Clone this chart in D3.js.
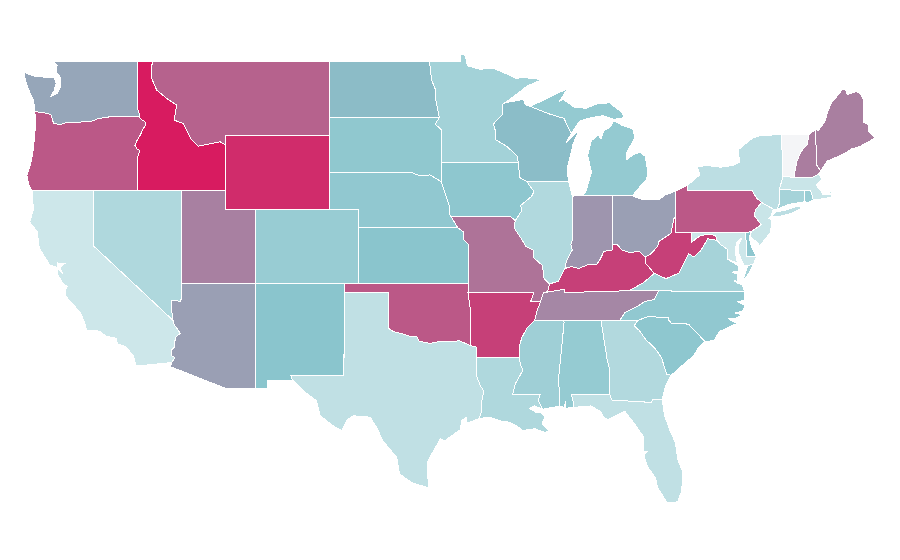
<!DOCTYPE html>
<html>
<head>
<meta charset="utf-8">
<script src="https://d3js.org/d3.v7.min.js"></script>
<style>
  body { margin: 0; background: #fff; }
  .state { stroke: #fff; stroke-width: 1; shape-rendering: crispEdges; }
</style>
</head>
<body>
<svg width="900" height="560"></svg>
<script>
var width = 900, height = 560;

var states = ["WA","OR","CA","NV","ID","MT","WY","UT","AZ","CO","NM","ND","SD","NE","KS","OK","TX","MN","IA","MO","AR","LA","WI","IL","MI","IN","OH","KY","TN","MS","AL","GA","FL","SC","NC","VA","WV","PA","NY","VT","NH","ME","MA","CT","RI","NJ","DE","MD"];
var values = [59,82,18,32,100,79,95,70,61,42.5,49,52.5,46.5,46,49,82,24,37.5,47,74,89,32,52,31,44.5,64,61,89,68,39.5,44,30.5,24,47,46,36,89,82,26,0,71,70.5,20,36,42,20,47,18];

// outlines as [lon, lat], one list per ring
var WA = [[[-117.04,49],[-122.76,49],[-122.5,48.75],[-122.55,48.4],[-122.25,48.1],[-122.25,47.9],[-122.3,47.5],[-122.5,47.25],[-122.9,47.1],[-122.7,47.4],[-122.55,47.8],[-122.7,48.12],[-123.2,48.12],[-124,48.17],[-124.72,48.38],[-124.65,47.95],[-124.35,47.3],[-124.1,46.9],[-124.05,46.65],[-124,46.27],[-123.4,46.2],[-123.1,46.17],[-122.9,46.08],[-122.8,45.85],[-122.75,45.65],[-122.3,45.55],[-121.9,45.68],[-121.2,45.67],[-120.6,45.74],[-120.2,45.73],[-119.6,45.92],[-119,45.93],[-118.98,46],[-116.92,46],[-116.92,46.17],[-117.04,46.42]]];
var OR = [[[-124,46.27],[-123.4,46.2],[-123.1,46.17],[-122.9,46.08],[-122.8,45.85],[-122.75,45.65],[-122.3,45.55],[-121.9,45.68],[-121.2,45.67],[-120.6,45.74],[-120.2,45.73],[-119.6,45.92],[-119,45.93],[-118.98,46],[-116.92,46],[-116.78,45.83],[-116.55,45.75],[-116.46,45.6],[-116.67,45.32],[-116.85,45],[-117.05,44.75],[-117.22,44.45],[-117.05,44.23],[-116.95,44.2],[-116.9,44.1],[-117.03,43.83],[-117.03,42],[-124.2,42],[-124.4,42.3],[-124.55,42.84],[-124.3,43.4],[-124.15,44],[-124.05,44.7],[-123.95,45.6]]];
var CA = [[[-124.2,42],[-120,42],[-120,39],[-114.63,35],[-114.57,34.8],[-114.14,34.3],[-114.43,34.1],[-114.5,33.9],[-114.53,33.55],[-114.72,33.4],[-114.7,33.08],[-114.5,33],[-114.72,32.72],[-117.12,32.53],[-117.25,32.85],[-117.3,33.1],[-117.9,33.6],[-118.4,33.74],[-118.5,34.03],[-119.2,34.15],[-119.6,34.42],[-120.47,34.45],[-120.65,34.9],[-120.9,35.4],[-121.9,36.3],[-121.95,36.6],[-121.8,36.85],[-122.05,36.95],[-122.5,37.5],[-122.5,37.78],[-122.4,37.75],[-122.1,37.5],[-122.3,37.85],[-122,38.05],[-122.45,38.1],[-122.5,37.85],[-123,38],[-123.7,38.9],[-123.85,39.8],[-124.35,40.3],[-124.1,41]]];
var NV = [[[-120,42],[-114.04,42],[-114.04,36.2],[-114.15,36.03],[-114.7,36.1],[-114.74,35.6],[-114.63,35],[-120,39]]];
var ID = [[[-117.04,49],[-116.05,49],[-116.08,48.06],[-115.74,47.43],[-115.06,46.98],[-114.38,46.62],[-114.56,45.81],[-113.93,45.63],[-113.43,44.82],[-112.92,44.4],[-111.44,44.64],[-111.05,44.46],[-111.05,42],[-117.03,42],[-117.03,43.83],[-116.9,44.1],[-116.95,44.2],[-117.05,44.23],[-117.22,44.45],[-117.05,44.75],[-116.85,45],[-116.67,45.32],[-116.46,45.6],[-116.55,45.75],[-116.78,45.83],[-116.92,46],[-116.92,46.17],[-117.04,46.42]]];
var MT = [[[-116.05,49],[-104.05,49],[-104.05,45],[-111.05,45],[-111.05,44.46],[-111.44,44.64],[-112.92,44.4],[-113.43,44.82],[-113.93,45.63],[-114.56,45.81],[-114.38,46.62],[-115.06,46.98],[-115.74,47.43],[-116.08,48.06]]];
var WY = [[[-111.05,45],[-104.05,45],[-104.05,41],[-111.05,41]]];
var UT = [[[-114.04,42],[-111.05,42],[-111.05,41],[-109.05,41],[-109.05,37],[-114.04,37]]];
var AZ = [[[-114.04,37],[-109.05,37],[-109.05,31.33],[-111.07,31.33],[-114.81,32.5],[-114.72,32.72],[-114.5,33],[-114.7,33.08],[-114.72,33.4],[-114.53,33.55],[-114.5,33.9],[-114.43,34.1],[-114.14,34.3],[-114.57,34.8],[-114.63,35],[-114.74,35.6],[-114.7,36.1],[-114.15,36.03],[-114.04,36.2]]];
var CO = [[[-109.05,41],[-102.05,41],[-102.05,37],[-109.05,37]]];
var NM = [[[-109.05,37],[-103,37],[-103.04,32],[-106.62,32],[-106.53,31.78],[-108.2,31.78],[-108.2,31.33],[-109.05,31.33]]];
var ND = [[[-104.05,49],[-97.23,49],[-97.1,48],[-96.85,47.5],[-96.8,46.9],[-96.56,45.94],[-104.05,45.94]]];
var SD = [[[-104.05,45.94],[-96.56,45.94],[-96.85,45.6],[-96.45,45.3],[-96.45,43.5],[-96.45,42.49],[-97.2,42.85],[-97.9,42.8],[-98.5,43],[-104.05,43]]];
var NE = [[[-104.05,43],[-98.5,43],[-97.9,42.8],[-97.2,42.85],[-96.45,42.49],[-96.1,41.7],[-95.9,41.2],[-95.85,40.7],[-95.31,40],[-102.05,40],[-102.05,41],[-104.05,41]]];
var KS = [[[-102.05,40],[-95.31,40],[-94.9,39.75],[-94.95,39.4],[-94.6,39.1],[-94.62,37],[-102.05,37]]];
var OK = [[[-103,37],[-94.62,37],[-94.62,36.5],[-94.43,35.4],[-94.48,33.64],[-95.2,33.9],[-95.8,33.85],[-96.6,33.85],[-97.2,33.75],[-97.95,33.88],[-98.1,34.13],[-98.6,34.15],[-99.2,34.3],[-99.7,34.4],[-100,34.56],[-100,36.5],[-103,36.5]]];
var TX = [[[-103,36.5],[-100,36.5],[-100,34.56],[-99.7,34.4],[-99.2,34.3],[-98.6,34.15],[-98.1,34.13],[-97.95,33.88],[-97.2,33.75],[-96.6,33.85],[-95.8,33.85],[-95.2,33.9],[-94.48,33.64],[-94.04,33.55],[-94.04,32],[-93.8,31.5],[-93.55,31.18],[-93.7,30.6],[-93.7,30.1],[-93.85,29.7],[-94.7,29.45],[-94.75,29.75],[-95.05,29.6],[-95.15,29.1],[-96.2,28.5],[-96.5,28.6],[-97,27.9],[-97.4,27.3],[-97.35,26.7],[-97.3,25.97],[-98.34,26.2],[-99.26,26.7],[-99.46,27.6],[-100.4,28.5],[-100.8,29.2],[-101.26,29.77],[-102.4,29.85],[-102.85,29.6],[-103.2,29.05],[-103.76,29.3],[-104.66,29.86],[-104.9,30.67],[-105.56,31.05],[-106.53,31.78],[-106.62,32],[-103.04,32]]];
var MN = [[[-97.23,49],[-95.15,49],[-95.15,49.38],[-94.82,49.3],[-94.65,48.74],[-93.8,48.55],[-92.95,48.62],[-92,48.3],[-91.4,48.07],[-90.75,48.1],[-89.6,48],[-90.6,47.65],[-91.5,47.1],[-92.1,46.75],[-92.3,46.66],[-92.3,46.1],[-92.9,45.6],[-92.75,45.2],[-92.75,44.75],[-92,44.4],[-91.25,43.85],[-91.22,43.5],[-96.45,43.5],[-96.45,45.3],[-96.85,45.6],[-96.56,45.94],[-96.8,46.9],[-96.85,47.5],[-97.1,48]]];
var IA = [[[-96.45,43.5],[-91.22,43.5],[-91.1,42.7],[-90.64,42.5],[-90.15,41.95],[-90.3,41.7],[-91.05,41.2],[-90.95,40.95],[-91.42,40.38],[-91.73,40.61],[-95.77,40.58],[-95.85,40.7],[-95.9,41.2],[-96.1,41.7],[-96.45,42.49]]];
var MO = [[[-95.77,40.58],[-91.73,40.61],[-91.42,40.38],[-91.5,40],[-91,39.4],[-90.7,39],[-90.2,38.8],[-90.2,38.4],[-89.55,37.95],[-89.5,37.3],[-89.1,36.97],[-89.2,36.6],[-89.42,36.5],[-89.5,36.5],[-89.7,36],[-90.38,36],[-90.15,36.5],[-94.62,36.5],[-94.62,37],[-94.6,39.1],[-94.95,39.4],[-94.9,39.75],[-95.31,40],[-95.85,40.7]]];
var AR = [[[-94.62,36.5],[-90.15,36.5],[-90.38,36],[-89.7,36],[-89.95,35.5],[-90.1,35],[-90.6,34.6],[-90.95,34.1],[-91.15,33.6],[-91.15,33],[-94.04,33.02],[-94.04,33.55],[-94.48,33.64],[-94.43,35.4]]];
var LA = [[[-94.04,33.02],[-91.15,33],[-91.05,32.6],[-90.9,32.3],[-91.4,31.6],[-91.6,31],[-89.73,31],[-89.85,30.67],[-89.55,30.2],[-90.1,30.38],[-90.45,30.25],[-90.05,30.05],[-89.7,30.05],[-89.4,29.8],[-89.6,29.4],[-89.1,29.05],[-89.4,28.95],[-90.1,29.15],[-90.9,29.05],[-91.3,29.3],[-91.8,29.5],[-92.3,29.55],[-93.2,29.78],[-93.85,29.7],[-93.7,30.1],[-93.7,30.6],[-93.55,31.18],[-93.8,31.5],[-94.04,32]]];
var WI = [[[-92.1,46.75],[-91.2,46.87],[-90.85,46.95],[-90.75,46.65],[-90.4,46.55],[-89.1,46.14],[-88.1,45.9],[-87.8,45.35],[-87.6,45.1],[-88,44.55],[-87.1,45.25],[-87.5,44.5],[-87.55,44.3],[-87.9,43.2],[-87.8,42.5],[-90.64,42.5],[-91.1,42.7],[-91.22,43.5],[-91.25,43.85],[-92,44.4],[-92.75,44.75],[-92.75,45.2],[-92.9,45.6],[-92.3,46.1],[-92.3,46.66]]];
var IL = [[[-90.64,42.5],[-87.8,42.5],[-87.55,41.75],[-87.53,41.7],[-87.53,39.35],[-87.65,39.1],[-87.55,38.8],[-87.95,38.2],[-88.05,37.8],[-88.5,37.1],[-89.1,36.97],[-89.5,37.3],[-89.55,37.95],[-90.2,38.4],[-90.2,38.8],[-90.7,39],[-91,39.4],[-91.5,40],[-91.42,40.38],[-90.95,40.95],[-91.05,41.2],[-90.3,41.7],[-90.15,41.95]]];
var MI = [
  [[-90.4,46.55],[-89.1,46.14],[-88.1,45.9],[-87.8,45.35],[-87.6,45.1],[-87.05,45.75],[-86.5,45.9],[-85.5,46.05],[-84.75,45.85],[-84,45.95],[-84.2,46.25],[-84.6,46.47],[-85,46.75],[-85.9,46.68],[-86.6,46.45],[-87.4,46.5],[-88.2,46.95],[-88.45,46.78],[-87.9,47.47],[-88.6,47.25],[-89.6,46.85]],
  [[-86.8,41.76],[-84.8,41.76],[-83.45,41.73],[-83.15,42.05],[-82.5,42.6],[-82.42,43],[-82.6,43.85],[-82.95,44.07],[-83.4,43.95],[-83.9,43.65],[-83.9,44],[-83.3,44.85],[-83.45,45.35],[-84.1,45.5],[-84.75,45.78],[-85,45.4],[-85.4,45.25],[-85.6,44.8],[-85.8,45],[-86.25,44.7],[-86.5,43.9],[-86.25,43],[-86.6,42]],
  [[-89.2,47.85],[-88.5,48.15],[-88.9,47.95]]
];
var IN = [[[-87.53,41.7],[-87.2,41.75],[-86.8,41.76],[-84.8,41.76],[-84.8,39.1],[-84.8,38.8],[-85.4,38.73],[-85.65,38.3],[-85.9,38],[-86.5,38],[-87.1,37.8],[-87.6,37.9],[-88.05,37.8],[-87.95,38.2],[-87.55,38.8],[-87.65,39.1],[-87.53,39.35]]];
var OH = [[[-84.8,41.76],[-83.45,41.73],[-83.1,41.6],[-82.7,41.5],[-81.7,41.5],[-81.25,41.76],[-80.52,41.98],[-80.52,40.64],[-80.65,40.5],[-80.85,39.7],[-81.7,39.25],[-81.75,39],[-82.2,38.6],[-82.6,38.42],[-83,38.73],[-83.65,38.65],[-84.2,38.8],[-84.5,39.1],[-84.8,39.1]]];
var KY = [[[-83.68,36.6],[-88.07,36.5],[-88.07,36.68],[-89.42,36.5],[-89.2,36.6],[-89.1,36.97],[-88.5,37.1],[-88.05,37.8],[-87.6,37.9],[-87.1,37.8],[-86.5,38],[-85.9,38],[-85.65,38.3],[-85.4,38.73],[-84.8,38.8],[-84.8,39.1],[-84.5,39.1],[-84.2,38.8],[-83.65,38.65],[-83,38.73],[-82.6,38.42],[-82.6,38.1],[-82,37.55],[-81.97,37.54],[-82.7,37.05]]];
var TN = [[[-90.1,35],[-88.2,35],[-85.6,35],[-84.32,35],[-84,35.4],[-83.1,35.77],[-82.6,36.03],[-82,36.12],[-81.68,36.59],[-83.68,36.6],[-88.07,36.5],[-88.07,36.68],[-89.42,36.5],[-89.5,36.5],[-89.7,36],[-89.95,35.5]]];
var MS = [[[-90.1,35],[-88.2,35],[-88.1,34.9],[-88.47,31.9],[-88.4,30.37],[-89.55,30.2],[-89.85,30.67],[-89.73,31],[-91.6,31],[-91.4,31.6],[-90.9,32.3],[-91.05,32.6],[-91.15,33],[-91.15,33.6],[-90.95,34.1],[-90.6,34.6]]];
var AL = [[[-88.2,35],[-85.6,35],[-85.18,32.87],[-85,32.3],[-85.05,31.5],[-85,31],[-87.6,31],[-87.45,30.45],[-87.5,30.3],[-88,30.25],[-88,30.65],[-88.1,30.3],[-88.4,30.37],[-88.47,31.9],[-88.1,34.9]]];
var GA = [[[-85.6,35],[-83.1,35],[-83.35,34.7],[-83,34.45],[-82.55,33.95],[-81.95,33.5],[-81.5,33],[-81.15,32.1],[-80.85,32.03],[-81.2,31.5],[-81.45,30.72],[-82.05,30.75],[-82.2,30.57],[-84.86,30.7],[-85,31],[-85.05,31.5],[-85,32.3],[-85.18,32.87]]];
var FL = [[[-87.6,31],[-85,31],[-84.86,30.7],[-82.2,30.57],[-82.05,30.75],[-81.45,30.72],[-81.3,29.9],[-80.9,29],[-80.55,28.4],[-80.4,27.5],[-80.05,26.8],[-80.12,25.8],[-80.4,25.2],[-81.1,25.15],[-81.75,25.95],[-81.9,26.5],[-82.45,27.1],[-82.7,27.7],[-82.45,27.9],[-82.7,27.95],[-82.7,28.7],[-83.4,29.5],[-84,30.1],[-84.35,29.95],[-85.1,29.65],[-85.35,29.7],[-85.65,30.1],[-86.3,30.38],[-87.5,30.3],[-87.45,30.45]]];
var SC = [[[-83.1,35],[-82.4,35.2],[-81.05,35.15],[-81.05,35.05],[-80.8,34.82],[-79.67,34.8],[-78.55,33.86],[-79,33.5],[-79.3,33.1],[-79.9,32.7],[-80.45,32.3],[-80.85,32.03],[-81.15,32.1],[-81.5,33],[-81.95,33.5],[-82.55,33.95],[-83,34.45],[-83.35,34.7]]];
var NC = [[[-84.32,35],[-83.1,35],[-82.4,35.2],[-81.05,35.15],[-81.05,35.05],[-80.8,34.82],[-79.67,34.8],[-78.55,33.86],[-77.95,33.9],[-77.55,34.4],[-76.9,34.65],[-76.3,34.85],[-76.7,34.95],[-76.95,35.1],[-76.5,35.1],[-76,35.3],[-76.5,35.4],[-76,35.5],[-75.8,35.8],[-76.3,36],[-75.85,36.1],[-75.87,36.55],[-81.68,36.59],[-82,36.12],[-82.6,36.03],[-83.1,35.77],[-84,35.4]]];
var VA = [
  [[-83.68,36.6],[-81.68,36.59],[-75.87,36.55],[-76,36.9],[-76.3,37],[-76.6,37.15],[-76.3,37.1],[-76.35,37.5],[-76.7,37.6],[-76.3,37.65],[-76.3,37.95],[-77,38.3],[-77.05,38.85],[-77.5,39.1],[-77.72,39.32],[-78.35,39.4],[-78.85,38.75],[-79.3,38.42],[-79.65,38.6],[-80.3,37.55],[-81.2,37.25],[-81.97,37.54],[-82.7,37.05]],
  [[-75.97,37.15],[-75.65,37.95],[-75.25,38.03],[-75.6,37.5]]
];
var WV = [[[-80.52,40.64],[-80.52,39.72],[-79.48,39.72],[-79.48,39.2],[-79.05,39.47],[-78.75,39.6],[-78.4,39.62],[-77.85,39.6],[-77.72,39.32],[-78.35,39.4],[-78.85,38.75],[-79.3,38.42],[-79.65,38.6],[-80.3,37.55],[-81.2,37.25],[-81.97,37.54],[-82,37.55],[-82.6,38.1],[-82.6,38.42],[-82.2,38.6],[-81.75,39],[-81.7,39.25],[-80.85,39.7],[-80.65,40.5]]];
var PA = [[[-80.52,41.98],[-79.76,42.27],[-79.76,42],[-75.35,42],[-75.05,41.6],[-74.7,41.36],[-75.13,40.97],[-75.2,40.65],[-74.73,40.15],[-75.4,39.8],[-75.79,39.72],[-80.52,39.72]]];
var NY = [
  [[-79.76,42.27],[-79.76,42],[-75.35,42],[-75.05,41.6],[-74.7,41.36],[-73.9,41],[-73.65,41],[-73.5,41.3],[-73.5,42.05],[-73.27,42.75],[-73.35,45.01],[-74.7,45],[-75.3,44.85],[-76.3,44.2],[-76.2,43.55],[-76.7,43.35],[-77.5,43.27],[-78.5,43.37],[-79.05,43.27],[-78.9,42.85]],
  [[-74.03,40.6],[-73.75,40.85],[-73,40.97],[-72.3,41.15],[-71.9,41.08],[-72.6,40.8],[-73.5,40.6]]
];
var VT = [[[-73.35,45.01],[-71.5,45.01],[-71.6,44.5],[-72.05,44.1],[-72.3,43.6],[-72.45,43],[-72.46,42.73],[-73.27,42.75]]];
var NH = [[[-71.5,45.01],[-71.08,45.3],[-71,44.3],[-70.98,43.4],[-70.7,43.07],[-70.85,42.88],[-71.3,42.7],[-72.46,42.73],[-72.45,43],[-72.3,43.6],[-72.05,44.1],[-71.6,44.5]]];
var ME = [[[-71.08,45.3],[-70.85,45.25],[-70.4,45.75],[-70.25,46.2],[-70,46.7],[-69.23,47.46],[-69,47.43],[-68.9,47.18],[-68.3,47.35],[-67.95,47.2],[-67.8,46.9],[-67.8,45.7],[-67.45,45.55],[-67.45,45.2],[-67,44.85],[-68,44.4],[-68.6,44.25],[-69.1,44],[-69.8,43.75],[-70.25,43.6],[-70.7,43.07],[-70.98,43.4],[-71,44.3]]];
var MA = [[[-73.5,42.05],[-73.27,42.75],[-71.3,42.7],[-70.85,42.88],[-70.6,42.65],[-71,42.3],[-70.65,41.95],[-70.55,41.8],[-70,41.78],[-70.2,42.05],[-69.95,41.9],[-70,41.65],[-70.65,41.55],[-71.2,41.5],[-71.38,42.02],[-71.8,42.02]]];
var CT = [[[-73.65,41],[-73.5,41.3],[-73.5,42.05],[-71.8,42.02],[-71.8,41.4],[-72.9,41.25]]];
var RI = [[[-71.8,42.02],[-71.38,42.02],[-71.2,41.5],[-71.5,41.37],[-71.8,41.4]]];
var NJ = [[[-74.7,41.36],[-73.9,41],[-74.05,40.65],[-74.25,40.5],[-74,40.45],[-74.1,39.75],[-74.5,39.35],[-74.9,38.95],[-74.95,39.2],[-75.5,39.5],[-75.4,39.8],[-74.73,40.15],[-75.2,40.65],[-75.13,40.97]]];
var DE = [[[-75.79,39.72],[-75.4,39.8],[-75.55,39.45],[-75.4,39],[-75.05,38.45],[-75.7,38.46]]];
var MD = [[[-79.48,39.72],[-75.79,39.72],[-75.7,38.46],[-75.05,38.45],[-75.25,38.03],[-75.65,37.95],[-75.9,37.95],[-76.25,38.6],[-76.3,39],[-76.05,39.45],[-76.4,39.2],[-76.5,38.7],[-76.35,38.1],[-77,38.3],[-77.05,38.85],[-77.5,39.1],[-77.72,39.32],[-77.85,39.6],[-78.4,39.62],[-78.75,39.6],[-79.05,39.47],[-79.48,39.2]]];

var outlines = [WA,OR,CA,NV,ID,MT,WY,UT,AZ,CO,NM,ND,SD,NE,KS,OK,TX,MN,IA,MO,AR,LA,WI,IL,MI,IN,OH,KY,TN,MS,AL,GA,FL,SC,NC,VA,WV,PA,NY,VT,NH,ME,MA,CT,RI,NJ,DE,MD];

var x = d3.scaleLinear().domain([-117.04, -104.05]).range([137.5, 329]);
var y = d3.scaleLinear().domain([49, 37]).range([61, 283.3]);
var color = d3.scaleLinear().domain([0, 18, 50, 100]).range(["#f4f5f7", "#cde7ea", "#88c4cc", "#d81b60"]);

var ring = d3.line().x(function(d) { return x(d[0]); }).y(function(d) { return y(d[1]); });

d3.select("svg").selectAll("path")
  .data(states)
  .enter().append("path")
  .attr("class", "state")
  .attr("d", function(d, i) {
    return outlines[i].map(function(r) { return ring(r) + "Z"; }).join("");
  })
  .attr("fill", function(d, i) { return color(values[i]); });
</script>
</body>
</html>
